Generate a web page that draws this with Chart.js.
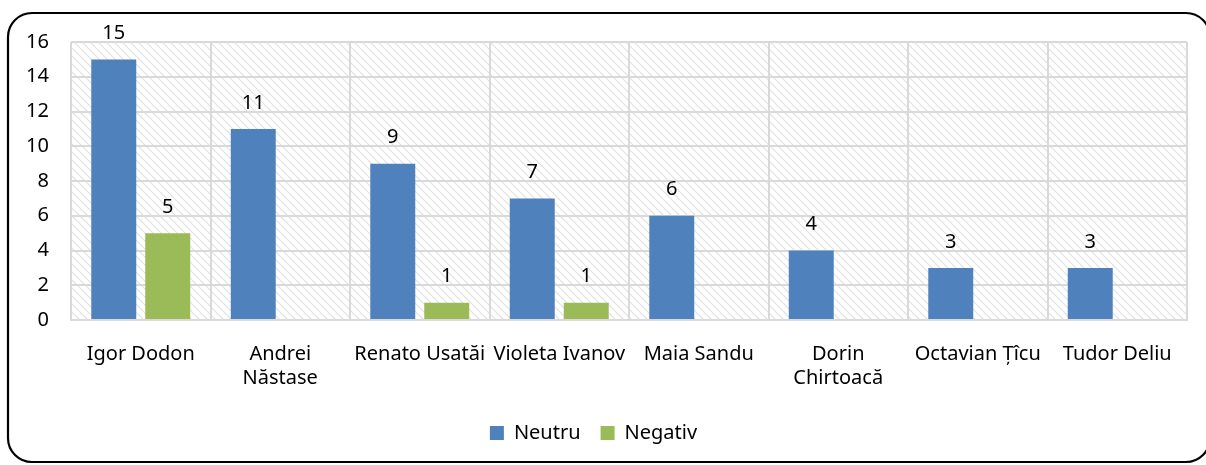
<!DOCTYPE html>
<html>
<head>
<meta charset="utf-8">
<script src="https://cdn.jsdelivr.net/npm/chart.js@4"></script>
<style>
  html, body { margin: 0; padding: 0; background: #fff; }
  #wrap { width: 1206px; height: 465px; }
</style>
</head>
<body>
<div id="wrap"><canvas id="myChart" width="1206" height="465"></canvas></div>
<script>
// categories and series
var categories = [
  "Igor Dodon", ["Andrei", "Năstase"], "Renato Usatăi", "Violeta Ivanov",
  "Maia Sandu", ["Dorin", "Chirtoacă"], "Octavian Țîcu", "Tudor Deliu"
];
var neutruValues = [15, 11, 9, 7, 6, 4, 3, 3];
var negativValues = [5, null, 1, 1, null, null, null, null];
var yTicks = [0, 2, 4, 6, 8, 10, 12, 14, 16];

var fontFamily = "'Noto Sans', sans-serif";
var fontSize = 20;

// hatched plot background
function makeHatch() {
  var c = document.createElement("canvas");
  c.width = 8; c.height = 8;
  var g = c.getContext("2d");
  g.strokeStyle = "#e0e0e0";
  g.lineWidth = 1.1;
  g.beginPath();
  g.moveTo(-2, -2); g.lineTo(10, 10);
  g.moveTo(-2, 6); g.lineTo(2, 10);
  g.moveTo(6, -2); g.lineTo(10, 2);
  g.stroke();
  return g.createPattern(c, "repeat");
}

var hatchBg = {
  id: "hatchBg",
  beforeDraw: function (chart) {
    var ctx = chart.ctx, a = chart.chartArea;
    ctx.save();
    ctx.fillStyle = makeHatch();
    ctx.fillRect(a.left, a.top, a.right - a.left, a.bottom - a.top);
    ctx.restore();
  },
  afterDraw: function (chart) {
    // outer rounded frame
    var ctx = chart.ctx;
    ctx.save();
    ctx.strokeStyle = "#000";
    ctx.lineWidth = 2.2;
    ctx.beginPath();
    ctx.roundRect(8, 13, 1202, 449, 24);
    ctx.stroke();
    ctx.restore();
  }
};

var valueLabels = {
  id: "valueLabels",
  afterDatasetsDraw: function (chart) {
    var ctx = chart.ctx;
    ctx.save();
    ctx.font = fontSize + "px " + fontFamily;
    ctx.fillStyle = "#000";
    ctx.textAlign = "center";
    ctx.textBaseline = "middle";
    chart.data.datasets.forEach(function (ds, i) {
      chart.getDatasetMeta(i).data.forEach(function (bar, j) {
        var v = ds.data[j];
        if (v === null || v === undefined) return;
        ctx.fillText(String(v), bar.x, bar.y - 26);
      });
    });
    ctx.restore();
  }
};

new Chart("myChart", {
  type: "bar",
  data: {
    labels: categories,
    datasets: [{
      label: "Neutru",
      backgroundColor: "#4f81bd",
      data: neutruValues,
      categoryPercentage: 0.774,
      barPercentage: 0.833
    }, {
      label: "Negativ",
      backgroundColor: "#9bbb59",
      data: negativValues,
      categoryPercentage: 0.774,
      barPercentage: 0.833
    }]
  },
  options: {
    responsive: false,
    animation: false,
    layout: { padding: { top: 42, right: 19, bottom: 12, left: 0 } },
    plugins: {
      legend: {
        position: "bottom",
        labels: {
          font: { family: fontFamily, size: fontSize },
          color: "#000",
          boxWidth: 14,
          boxHeight: 14,
          padding: 20
        }
      },
      tooltip: { enabled: false }
    },
    scales: {
      x: {
        grid: { color: "#d9d9d9", lineWidth: 2, drawTicks: false },
        border: { color: "#d9d9d9", width: 2 },
        ticks: {
          font: { family: fontFamily, size: fontSize },
          color: "#000",
          padding: 22,
          maxRotation: 0,
          autoSkip: false
        },
        afterFit: function (s) { s.height = 83; }
      },
      y: {
        min: 0,
        max: 16,
        afterBuildTicks: function (s) {
          s.ticks = yTicks.map(function (v) { return { value: v }; });
        },
        grid: { color: "#d9d9d9", lineWidth: 2, drawTicks: false },
        border: { display: false },
        ticks: {
          font: { family: fontFamily, size: fontSize },
          color: "#000",
          padding: 22
        },
        afterFit: function (s) { s.width = 71; }
      }
    }
  },
  plugins: [hatchBg, valueLabels]
});
</script>
</body>
</html>
